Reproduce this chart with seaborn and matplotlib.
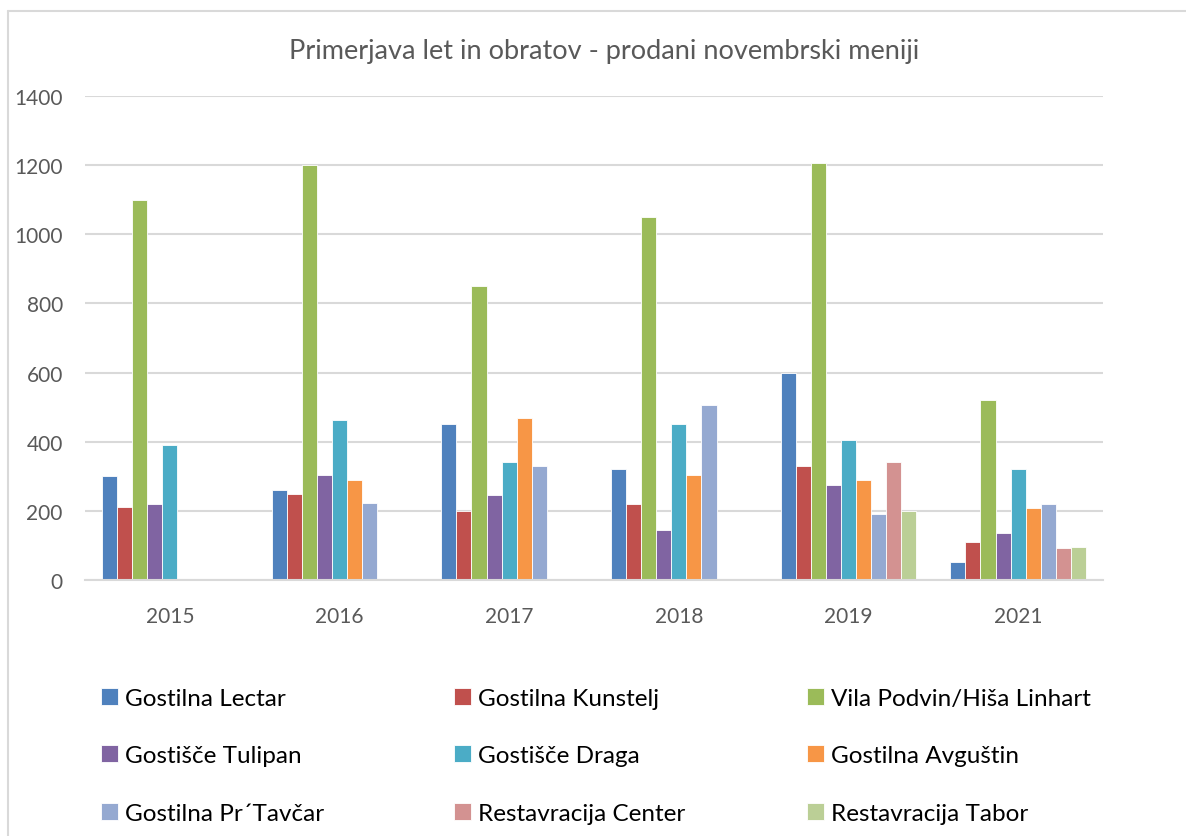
import matplotlib
matplotlib.use("Agg")
import matplotlib.pyplot as plt
from matplotlib.lines import Line2D
import numpy as np
import pandas as pd
import seaborn as sns

# podatki, odčitani s slike
leta = ["2015", "2016", "2017", "2018", "2019", "2021"]
lokali = ["Gostilna Lectar", "Gostilna Kunstelj", "Vila Podvin/Hiša Linhart",
          "Gostišče Tulipan", "Gostišče Draga", "Gostilna Avguštin",
          "Gostilna Pr´Tavčar", "Restavracija Center", "Restavracija Tabor"]
lectar = [300, 260, 450, 320, 600, 52]
kunstelj = [210, 250, 200, 220, 330, 110]
vila = [1100, 1200, 850, 1050, 1205, 520]
tulipan = [220, 305, 245, 145, 276, 135]
draga = [390, 462, 340, 450, 406, 320]
avgustin = [None, 290, 470, 305, 288, 207]
tavcar = [None, 222, 330, 505, 191, 220]
center = [None, None, None, None, 342, 93]
tabor = [None, None, None, None, 201, 96]

barve = ["#4F81BD", "#C0504D", "#9BBB59", "#8064A2", "#4BACC6",
         "#F79646", "#95A9D1", "#D39291", "#BBCF96"]

serije = [lectar, kunstelj, vila, tulipan, draga, avgustin, tavcar, center, tabor]
rows = []
for lok, vals in zip(lokali, serije):
    for leto, v in zip(leta, vals):
        if v is not None:
            rows.append({"Leto": leto, "Lokal": lok, "Meniji": v})
df = pd.DataFrame(rows)

sns.set_theme(style="white")
plt.rcParams["font.family"] = ["Lato", "DejaVu Sans"]

fig = plt.figure(figsize=(11.86, 8.37), dpi=100)
ax = fig.add_axes([85 / 1186, 1 - 581 / 837, (1103 - 85) / 1186, (581 - 97) / 837])

sns.barplot(data=df, x="Leto", y="Meniji", hue="Lokal", order=leta,
            hue_order=lokali, palette=barve, width=0.8, saturation=1,
            edgecolor="white", linewidth=0.6, ax=ax)

ax.set_ylim(0, 1400)
ax.set_yticks(np.arange(0, 1401, 200))
ax.grid(axis="y", color="#D9D9D9", linewidth=1.5)
ax.set_axisbelow(True)
for s in ["top", "right", "left"]:
    ax.spines[s].set_visible(False)
ax.spines["bottom"].set_color("#D9D9D9")
ax.spines["bottom"].set_linewidth(1.5)
ax.set_xlabel("")
ax.set_ylabel("")
ax.tick_params(axis="both", length=0, labelsize=15, colors="#595959")
ax.tick_params(axis="y", pad=16)
ax.tick_params(axis="x", pad=19)

fig.text(604 / 1186, 1 - 52 / 837, "Primerjava let in obratov - prodani novembrski meniji",
         ha="center", va="center", fontsize=19.5, color="#595959")

# legenda v treh stolpcih
handles, labels = ax.get_legend_handles_labels()
ax.get_legend().remove()
col_x = [91, 444, 797]
for c in range(3):
    idx = [c, c + 3, c + 6]
    leg = fig.legend([handles[i] for i in idx], [labels[i] for i in idx],
                     loc="upper left", bbox_to_anchor=(col_x[c] / 1186, 1 - 679 / 837),
                     frameon=False, fontsize=17.5, handlelength=0.7, handleheight=0.7,
                     handletextpad=0.3, labelspacing=1.5, borderaxespad=0)
    for t in leg.get_texts():
        t.set_color("#000000")

# okvir grafikona
fig.add_artist(Line2D([8 / 1186, 1], [1 - 12 / 837, 1 - 12 / 837], color="#D9D9D9", lw=1.5))
fig.add_artist(Line2D([8 / 1186, 8 / 1186], [0, 1 - 12 / 837], color="#D9D9D9", lw=1.5))

fig.savefig("out.png", dpi=100)
